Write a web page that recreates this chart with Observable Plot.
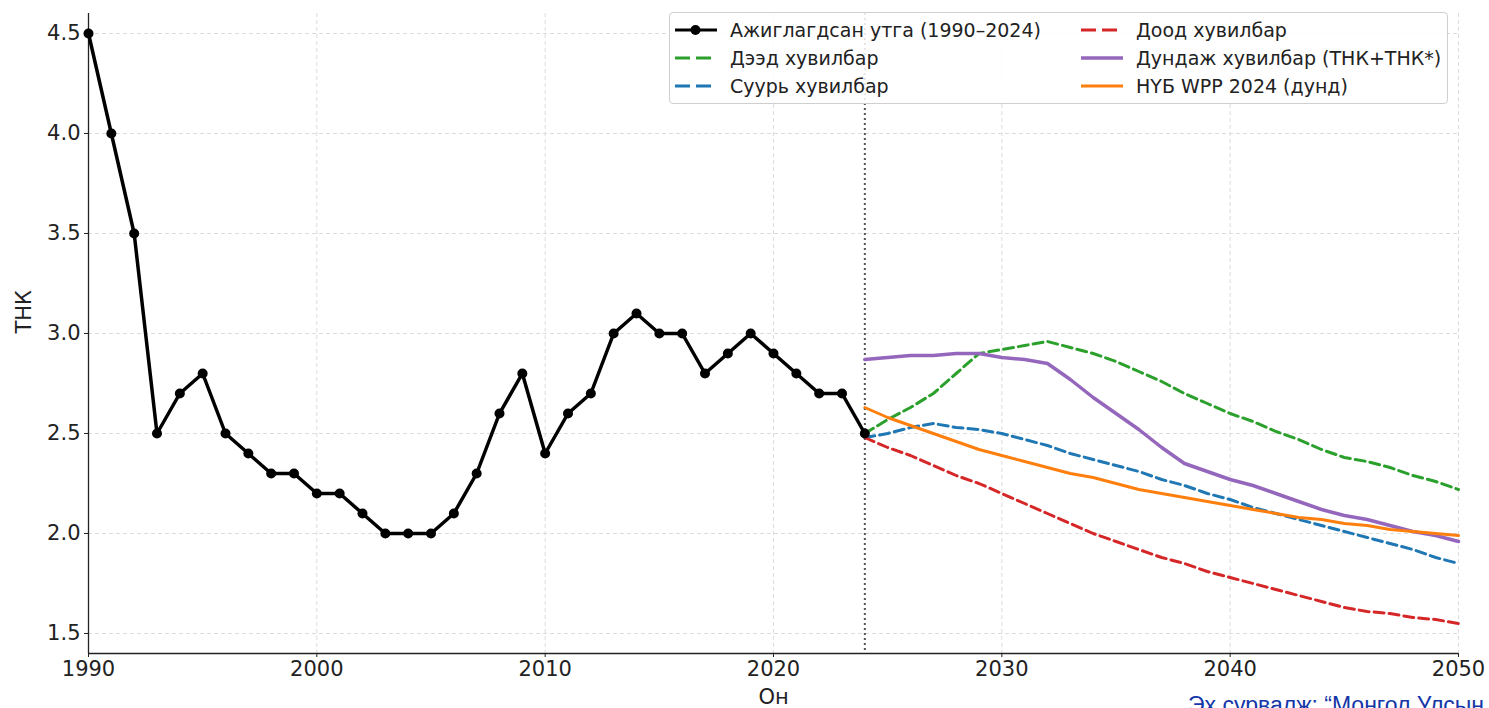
<!DOCTYPE html>
<html>
<head>
<meta charset="utf-8">
<script src="https://cdn.jsdelivr.net/npm/d3@7"></script>
<script src="https://cdn.jsdelivr.net/npm/@observablehq/plot@0.6"></script>
<style>
  html, body { margin: 0; padding: 0; background: #fff; overflow: hidden; }
  #wrap { position: relative; width: 1489px; height: 708px; overflow: hidden; }
  #legend {
    position: absolute; left: 669px; top: 12px; width: 777px; height: 90px;
    border: 1px solid #cfcfcf; border-radius: 4px; background: rgba(255,255,255,0.85);
    font-family: "DejaVu Sans", sans-serif; font-size: 19px; color: #222;
  }
  .item { position: absolute; display: flex; align-items: center; height: 24px; white-space: nowrap; }
  .item svg { margin-right: 12px; }
  #caption {
    position: absolute; left: 1188px; top: 692px; white-space: nowrap;
    font-family: "Liberation Sans", Arial, sans-serif; font-size: 23px; color: #1536a8;
  }
</style>
</head>
<body>
<div id="wrap">
  <div id="chart"></div>
  <div id="legend"></div>
  <div id="caption">Эх сурвалж: “Монгол Улсын хүн ам, өрхийн тооллого”</div>
</div>
<script>
// ---- Data ----
const obsYears = [1990,1991,1992,1993,1994,1995,1996,1997,1998,1999,2000,2001,2002,2003,2004,2005,2006,2007,2008,2009,2010,2011,2012,2013,2014,2015,2016,2017,2018,2019,2020,2021,2022,2023,2024];
const obsTfr   = [4.5,4.0,3.5,2.5,2.7,2.8,2.5,2.4,2.3,2.3,2.2,2.2,2.1,2.0,2.0,2.0,2.1,2.3,2.6,2.8,2.4,2.6,2.7,3.0,3.1,3.0,3.0,2.8,2.9,3.0,2.9,2.8,2.7,2.7,2.5];

const projYears = [2024,2025,2026,2027,2028,2029,2030,2031,2032,2033,2034,2035,2036,2037,2038,2039,2040,2041,2042,2043,2044,2045,2046,2047,2048,2049,2050];
const highTfr   = [2.50,2.57,2.63,2.70,2.80,2.90,2.92,2.94,2.96,2.93,2.90,2.86,2.81,2.76,2.70,2.65,2.60,2.56,2.51,2.47,2.42,2.38,2.36,2.33,2.29,2.26,2.22];
const baseTfr   = [2.48,2.50,2.53,2.55,2.53,2.52,2.50,2.47,2.44,2.40,2.37,2.34,2.31,2.27,2.24,2.20,2.17,2.13,2.10,2.07,2.04,2.01,1.98,1.95,1.92,1.88,1.85];
const lowTfr    = [2.48,2.43,2.39,2.34,2.29,2.25,2.20,2.15,2.10,2.05,2.00,1.96,1.92,1.88,1.85,1.81,1.78,1.75,1.72,1.69,1.66,1.63,1.61,1.60,1.58,1.57,1.55];
const midTfr    = [2.87,2.88,2.89,2.89,2.90,2.90,2.88,2.87,2.85,2.77,2.68,2.60,2.52,2.43,2.35,2.31,2.27,2.24,2.20,2.16,2.12,2.09,2.07,2.04,2.01,1.99,1.96];
const wppTfr    = [2.63,2.58,2.54,2.50,2.46,2.42,2.39,2.36,2.33,2.30,2.28,2.25,2.22,2.20,2.18,2.16,2.14,2.12,2.10,2.08,2.07,2.05,2.04,2.02,2.01,2.00,1.99];

const xTicks = [1990,2000,2010,2020,2030,2040,2050];
const yTicks = [1.5,2.0,2.5,3.0,3.5,4.0,4.5];
const splitYear = [2024];

const labels = {
  obs: "Ажиглагдсан утга (1990–2024)",
  high: "Дээд хувилбар",
  base: "Суурь хувилбар",
  low: "Доод хувилбар",
  mid: "Дундаж хувилбар (ТНК+ТНК*)",
  wpp: "НҮБ WPP 2024 (дунд)"
};
const colors = { obs: "#000000", high: "#2ca02c", base: "#1f77b4", low: "#d62728", mid: "#9467bd", wpp: "#ff7f0e" };

// ---- Tables ----
const obs = obsYears.map((y, i) => ({ year: y, v: obsTfr[i] }));
const proj = (arr) => projYears.map((y, i) => ({ year: y, v: arr[i] }));

const chart = Plot.plot({
  width: 1489,
  height: 708,
  marginLeft: 88,
  marginRight: 31,
  marginTop: 13,
  marginBottom: 55,
  style: { fontFamily: "DejaVu Sans, sans-serif", fontSize: "21px", color: "#222", background: "#fff" },
  x: { domain: [1990, 2050] },
  y: { domain: [1.4, 4.6] },
  marks: [
    Plot.ruleX(xTicks, { stroke: "#dcdcdc", strokeDasharray: "4,3", strokeWidth: 1 }),
    Plot.ruleY(yTicks, { stroke: "#dcdcdc", strokeDasharray: "4,3", strokeWidth: 1 }),
    Plot.axisX({ ticks: xTicks, tickFormat: d => String(d), tickSize: 4, tickPadding: 4, label: null, fontSize: 21 }),
    Plot.axisY({ ticks: yTicks, tickFormat: d3.format(".1f"), tickSize: 4, tickPadding: 4, label: null, fontSize: 21 }),
    Plot.ruleX([1990], { stroke: "#222", strokeWidth: 1.3 }),
    Plot.ruleY([1.4], { stroke: "#222", strokeWidth: 1.3 }),
    Plot.ruleX(splitYear, { stroke: "#555", strokeWidth: 2, strokeDasharray: "2,3" }),
    Plot.line(proj(highTfr), { x: "year", y: "v", stroke: colors.high, strokeWidth: 3, strokeDasharray: "10,5" }),
    Plot.line(proj(baseTfr), { x: "year", y: "v", stroke: colors.base, strokeWidth: 3, strokeDasharray: "10,5" }),
    Plot.line(proj(lowTfr),  { x: "year", y: "v", stroke: colors.low,  strokeWidth: 3, strokeDasharray: "10,5" }),
    Plot.line(proj(midTfr),  { x: "year", y: "v", stroke: colors.mid,  strokeWidth: 3.5 }),
    Plot.line(proj(wppTfr),  { x: "year", y: "v", stroke: colors.wpp,  strokeWidth: 3 }),
    Plot.line(obs, { x: "year", y: "v", stroke: colors.obs, strokeWidth: 3.5 }),
    Plot.dot(obs, { x: "year", y: "v", r: 5, fill: colors.obs }),
    Plot.text(["ТНК"], { frameAnchor: "left", dx: -64, rotate: -90, fontSize: 21, fill: "#222" }),
    Plot.text(["Он"], { frameAnchor: "bottom", dy: 50, fontSize: 21, fill: "#222" })
  ]
});
document.getElementById("chart").appendChild(chart);

// ---- Legend ----
const legendItems = [
  { key: "obs",  col: 0, row: 0, dash: null, dot: true },
  { key: "high", col: 0, row: 1, dash: "15,6" },
  { key: "base", col: 0, row: 2, dash: "15,6" },
  { key: "low",  col: 1, row: 0, dash: "15,6" },
  { key: "mid",  col: 1, row: 1, dash: null },
  { key: "wpp",  col: 1, row: 2, dash: null }
];
const lg = document.getElementById("legend");
for (const it of legendItems) {
  const div = document.createElement("div");
  div.className = "item";
  div.style.left = (it.col === 0 ? 3 : 409) + "px";
  div.style.top = (5 + it.row * 28) + "px";
  const c = colors[it.key];
  div.innerHTML =
    `<svg width="45" height="14"><line x1="2" y1="7" x2="44" y2="7" stroke="${c}" stroke-width="${it.key==='mid'?3.5:3}" ${it.dash ? `stroke-dasharray="${it.dash}"` : ""}/>` +
    (it.dot ? `<circle cx="22.5" cy="7" r="5" fill="${c}"/>` : "") +
    `</svg><span>${labels[it.key]}</span>`;
  lg.appendChild(div);
}
</script>
</body>
</html>
